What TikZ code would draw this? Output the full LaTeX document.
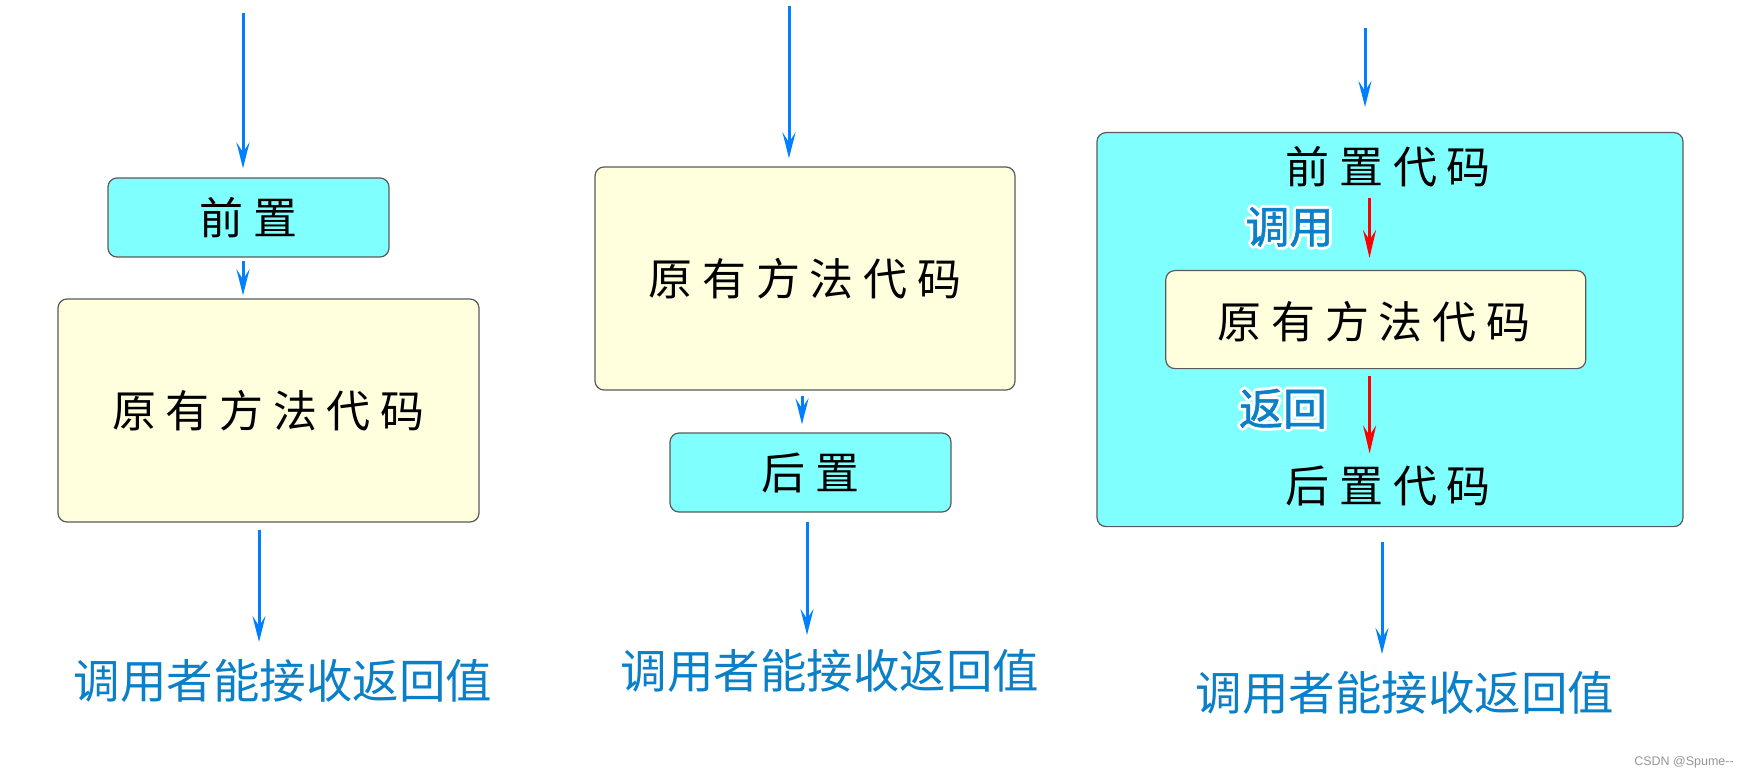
\documentclass[tikz,border=0pt]{standalone}
\usepackage{fontspec}
\newfontfamily\cjk{Noto Sans CJK SC}
\newfontfamily\cjkb[FakeBold=1.2]{Noto Sans CJK SC}
\newfontfamily\cjksp[LetterSpace=22]{Noto Sans CJK SC}
\newfontfamily\wm{Liberation Sans}
\usetikzlibrary{arrows.meta}
\definecolor{arrblue}{RGB}{0,128,255}
\definecolor{txtblue}{RGB}{10,128,200}
\definecolor{boxcyan}{RGB}{128,255,255}
\definecolor{boxyellow}{RGB}{255,255,222}
\definecolor{border}{RGB}{90,90,90}
\newcommand\hcopy[3]{\rlap{\hspace*{#1}\raisebox{#2}{\color{white}#3}}}
\newcommand\halo[1]{\hcopy{3pt}{0pt}{#1}\hcopy{-3pt}{0pt}{#1}\hcopy{0pt}{3pt}{#1}\hcopy{0pt}{-3pt}{#1}\hcopy{2.1pt}{2.1pt}{#1}\hcopy{-2.1pt}{2.1pt}{#1}\hcopy{2.1pt}{-2.1pt}{#1}\hcopy{-2.1pt}{-2.1pt}{#1}#1}
\tikzset{
  arr/.style={draw=arrblue, line width=3pt, -{Stealth[length=26pt,width=13pt,inset=10pt]}},
  redarr/.style={draw=red, line width=2.5pt, -{Stealth[length=28pt,width=13pt,inset=10pt]}},
  cyanbox/.style={draw=border, line width=1.2pt, fill=boxcyan, rounded corners=9pt, inner sep=0pt},
  yelbox/.style={draw=border, line width=1.2pt, fill=boxyellow, rounded corners=9pt, inner sep=0pt},
  blk/.style={inner sep=0pt, font=\cjksp\fontsize{44pt}{48pt}\selectfont, text=black},
  res/.style={inner sep=0pt, font=\cjk\fontsize{46.5pt}{50pt}\selectfont, text=txtblue},
  lab/.style={inner sep=0pt, font=\cjkb\fontsize{44pt}{48pt}\selectfont, text=txtblue},
}
\begin{document}
\begin{tikzpicture}[x=1pt,y=-1pt]
\useasboundingbox[fill=white] (0,0) rectangle (1746,778);

% Column 1
\node[cyanbox, minimum width=281pt, minimum height=79pt] (pre1) at (248.5,217.5) {};
\node[blk] at (pre1.center) (pre1t) {前置};
\node[yelbox, minimum width=421pt, minimum height=223pt] (orig1) at (268.5,410.5) {};
\node[blk] at (orig1.center) (orig1t) {原有方法代码};
\node[res] (res1) at (283,681) {调用者能接收返回值};
\coordinate (t1) at (243,13);
\draw[arr, shorten >=9pt] (t1) -- (t1 |- pre1.north);
\draw[arr, shorten <=3pt, shorten >=3pt] ([xshift=-5.5pt]pre1.south) -- ([xshift=-5.5pt]pre1.south |- orig1.north);
\draw[arr, shorten <=7pt, shorten >=39pt] ([xshift=-9.5pt]orig1.south) -- ([xshift=-9.5pt]orig1.south |- res1.center);

% Column 2
\node[yelbox, minimum width=420pt, minimum height=223pt] (orig2) at (805,278.5) {};
\node[blk] at (orig2.center) (orig2t) {原有方法代码};
\node[cyanbox, minimum width=281pt, minimum height=79pt] (post2) at (810.5,472.5) {};
\node[blk] at (post2.center) (post2t) {后置};
\node[res] (res2) at (830,671) {调用者能接收返回值};
\coordinate (t2) at (789,6);
\draw[arr, shorten >=8pt] (t2) -- (t2 |- orig2.north);
\draw[arr, shorten <=5pt, shorten >=8pt] ([xshift=-3pt]orig2.south) -- ([xshift=-3pt]orig2.south |- post2.north);
\draw[arr, shorten <=9pt, shorten >=36pt] ([xshift=-3.5pt]post2.south) -- ([xshift=-3.5pt]post2.south |- res2.center);

% Column 3
\node[cyanbox, minimum width=586pt, minimum height=394pt] (big3) at (1390,329.6) {};
\node[blk] (pre3) at (1388.5,167) {前置代码};
\node[yelbox, minimum width=420pt, minimum height=98pt] (inner3) at (1375.8,319.6) {};
\node[blk] at (1374,322) (inner3t) {原有方法代码};
\node[blk] (post3) at (1388.5,485.5) {后置代码};
\node[lab] (call) at (1289.5,227) {\halo{调用}};
\node[lab] (ret) at (1283,408.7) {\halo{返回}};
\node[res] (res3) at (1405,693) {调用者能接收返回值};
\coordinate (t3) at (1365,28);
\draw[arr, shorten >=25pt] (t3) -- (t3 |- big3.north);
\draw[redarr, shorten <=31pt, shorten >=12pt] ([xshift=-19pt]pre3.center) -- ([xshift=-19pt]pre3.center |- inner3.north);
\draw[redarr, shorten <=7pt, shorten >=32pt] ([xshift=-6.2pt]inner3.south) -- ([xshift=-6.2pt]inner3.south |- post3.center);
\draw[arr, shorten <=15pt, shorten >=39pt] (res3.center |- big3.south) ++(-23pt,0) coordinate (b3) -- (b3 |- res3.center);

% watermark
\node[inner sep=0pt, font=\wm\fontsize{12.5pt}{14pt}\selectfont, text={rgb,255:red,150;green,150;blue,150}] (wmk) at (1684,762) {CSDN @Spume--};
\end{tikzpicture}
\end{document}
